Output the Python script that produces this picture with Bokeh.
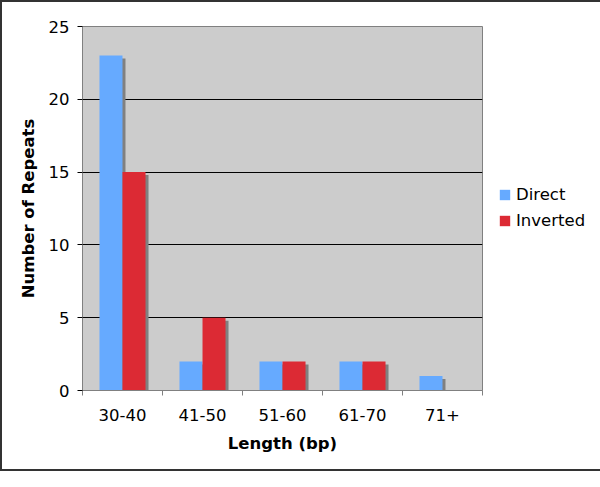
import numpy as np
from bokeh.plotting import figure
from bokeh.models import (ColumnDataSource, FixedTicker, Range1d, Legend, LegendItem)
from bokeh.embed import file_html
from bokeh.resources import INLINE

categories = ["30-40", "41-50", "51-60", "61-70", "71+"]
direct = [23, 2, 2, 2, 1]
inverted = [15, 5, 2, 2, 0]
series_names = ["Direct", "Inverted"]
y_ticks = [0, 5, 10, 15, 20, 25]

FONT = "DejaVu Sans"
FS = "16.5px"
BLUE = "#66AAFF"
RED = "#DC2A34"

FRAME_W = 400
FRAME_H = 364
centers = np.arange(len(categories)) + 0.5
bar_w = 0.2875
off = 0.144
sh_dx = 3 / (FRAME_W / len(categories))
sh_dy = 3 / (FRAME_H / 25.0)

src = ColumnDataSource(dict(
    x=centers,
    direct=direct,
    inverted=inverted,
    xd=centers - off,
    xi=centers + off,
    xds=centers - off + sh_dx,
    xis=centers + off + sh_dx,
    direct_s=[v - sh_dy for v in direct],
    inverted_s=[v - sh_dy for v in inverted],
))

p = figure(output_backend="svg", toolbar_location=None,
           x_range=Range1d(0, len(categories)), y_range=Range1d(0, 25),
           frame_width=FRAME_W, frame_height=FRAME_H,
           min_border_left=80, min_border_right=0, min_border_top=24,
           min_border_bottom=79)
p.styles = {"border": "2px solid #333333"}

p.background_fill_color = "#CCCCCC"
p.outline_line_color = "#808080"
p.outline_line_width = 1

# shadows
for xs, ys in (("xds", "direct_s"), ("xis", "inverted_s")):
    p.vbar(x=xs, top=ys, bottom=0, width=bar_w, source=src,
           fill_color="#808080", line_color=None)

rd = p.vbar(x="xd", top="direct", bottom=0, width=bar_w, source=src,
            fill_color=BLUE, line_color=None)
ri = p.vbar(x="xi", top="inverted", bottom=0, width=bar_w, source=src,
            fill_color=RED, line_color=None)

# grid
p.xgrid.grid_line_color = None
p.ygrid.grid_line_color = "black"
p.ygrid.grid_line_width = 1
p.ygrid.ticker = FixedTicker(ticks=y_ticks)

# x axis
xa = p.xaxis[0]
xa.ticker = FixedTicker(ticks=list(centers), minor_ticks=list(range(len(categories) + 1)))
xa.major_label_overrides = {float(c): lab for c, lab in zip(centers, categories)}
xa.major_tick_line_color = None
xa.minor_tick_line_color = "#808080"
xa.minor_tick_out = 5
xa.minor_tick_in = 0
xa.axis_line_color = "#808080"
xa.major_label_text_font = FONT
xa.major_label_text_font_size = FS
xa.major_label_text_color = "black"
xa.major_label_standoff = 12
xa.axis_label = "Length (bp)"
xa.axis_label_text_font = FONT
xa.axis_label_text_font_size = FS
xa.axis_label_text_font_style = "bold"
xa.axis_label_text_color = "black"
xa.axis_label_standoff = 10

# y axis
ya = p.yaxis[0]
ya.ticker = FixedTicker(ticks=y_ticks)
ya.minor_tick_line_color = None
ya.major_tick_line_color = "black"
ya.major_tick_out = 5
ya.major_tick_in = 0
ya.axis_line_color = "#808080"
ya.major_label_text_font = FONT
ya.major_label_text_font_size = FS
ya.major_label_text_color = "black"
ya.major_label_standoff = 8
ya.axis_label = "Number of Repeats"
ya.axis_label_text_font = FONT
ya.axis_label_text_font_size = FS
ya.axis_label_text_font_style = "bold"
ya.axis_label_text_color = "black"
ya.axis_label_standoff = 8

legend = Legend(items=[LegendItem(label=series_names[0], renderers=[rd]),
                       LegendItem(label=series_names[1], renderers=[ri])],
                location=(16, 160), orientation="vertical",
                padding=0, margin=0, spacing=7,
                glyph_width=13, glyph_height=13, label_height=13,
                label_standoff=5, border_line_color=None,
                background_fill_alpha=0,
                label_text_font=FONT, label_text_font_size=FS,
                label_text_color="black")
p.add_layout(legend, "right")

open("out.html", "w").write(file_html(p, INLINE))
